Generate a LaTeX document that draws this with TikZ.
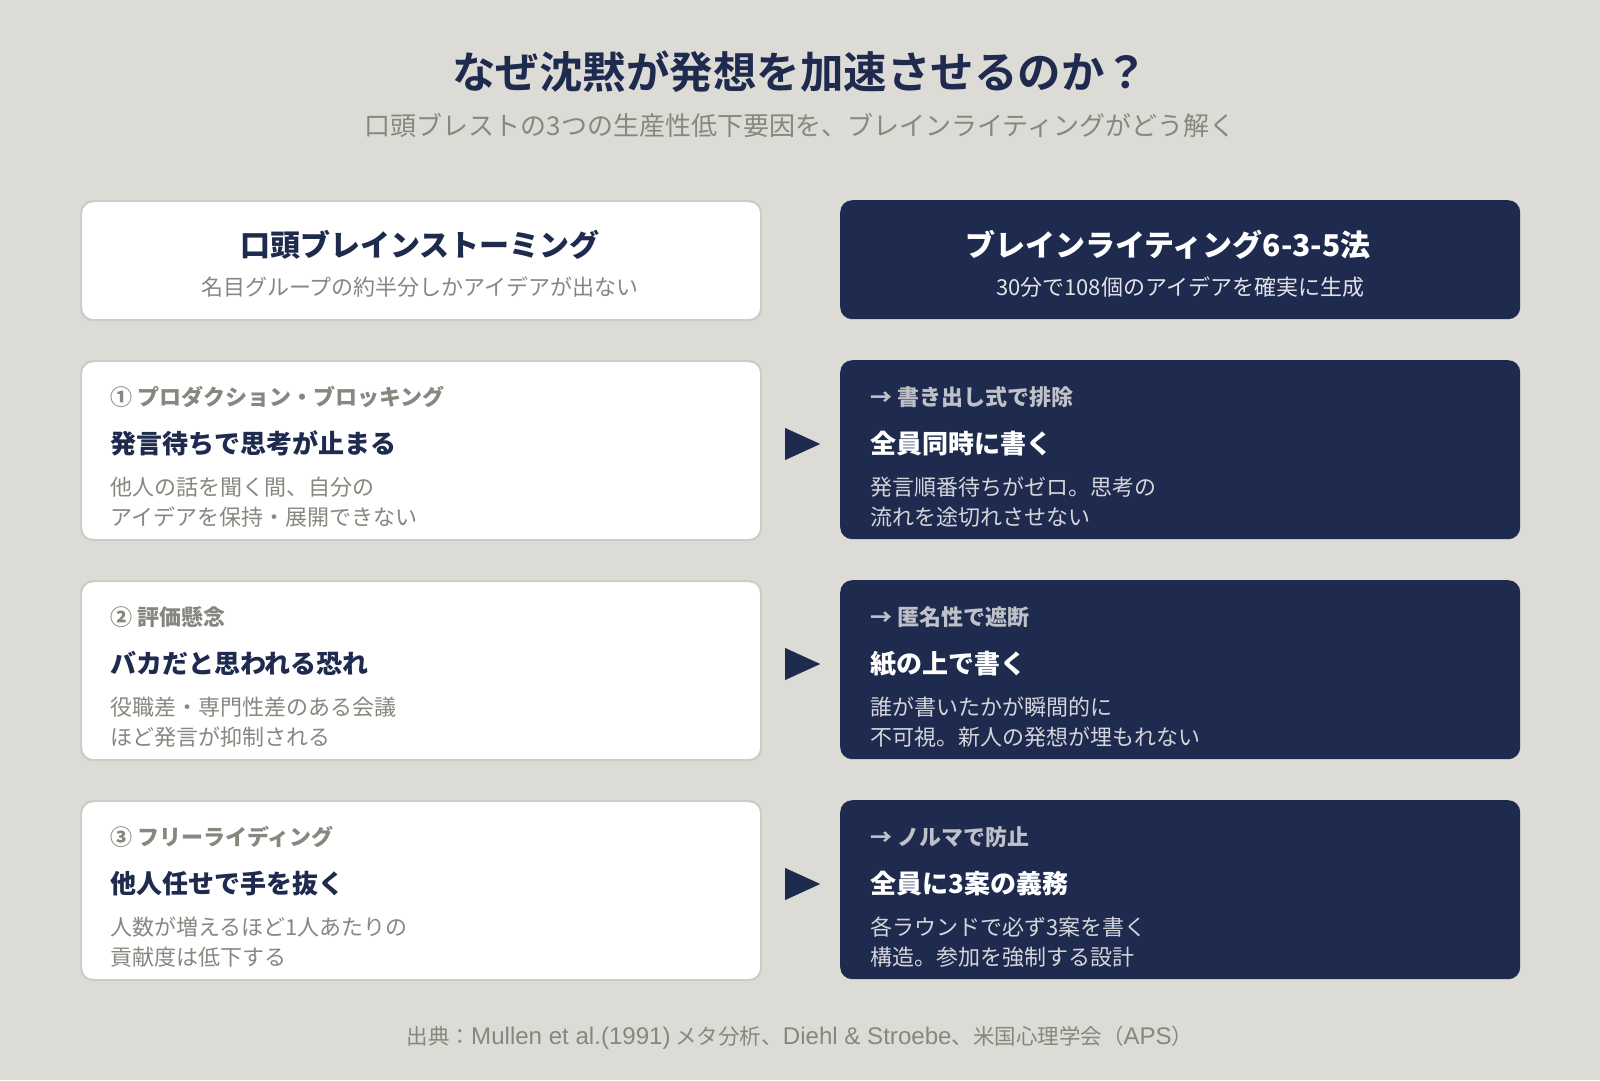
\documentclass[tikz,border=0pt]{standalone}
\usepackage{fontspec}
\setmainfont{Noto Sans CJK JP}
\IfFontExistsTF{Noto Sans CJK JP Black}
  {\newfontfamily\heavy{Noto Sans CJK JP Black}}
  {\newfontfamily\heavy{Noto Sans CJK JP}}
\newfontfamily\latin{Liberation Sans}[Scale=1.12]
\usetikzlibrary{calc}
\definecolor{bgcol}{HTML}{DCDBD6}
\definecolor{navy}{HTML}{1E2A4E}
\definecolor{graytxt}{HTML}{88877F}
\definecolor{bordercol}{HTML}{CDCCC7}
\definecolor{lightlbl}{HTML}{BFC1C8}
\definecolor{lightbody}{HTML}{D4D5DA}
\definecolor{lightsub}{HTML}{E2E3E8}
\begin{document}
\begin{tikzpicture}[x=1pt,y=-1pt,
  lbox/.style={draw=bordercol, line width=2.2pt, fill=white, rounded corners=12pt,
    minimum width=680pt, minimum height=179pt, anchor=north west, inner sep=0pt},
  rbox/.style={fill=navy, rounded corners=12pt,
    minimum width=680pt, minimum height=179pt, anchor=north west, inner sep=0pt},
  hbox/.style={minimum height=119pt},
  txt/.style={inner sep=0pt, anchor=base west},
  ctxt/.style={inner sep=0pt, anchor=base},
  maintitle/.style={ctxt, text=navy, font=\fontsize{43.5}{50}\selectfont\heavy\bfseries},
  subtitle/.style={ctxt, text=graytxt, font=\fontsize{26}{30}\selectfont},
  htitle/.style={ctxt, font=\fontsize{30}{36}\selectfont\bfseries},
  hsub/.style={ctxt, font=\fontsize{22}{26}\selectfont},
  lbl/.style={txt, font=\fontsize{22}{26}\selectfont\bfseries},
  head/.style={txt, font=\fontsize{26}{30}\selectfont\bfseries},
  body/.style={txt, font=\fontsize{22}{26}\selectfont},
  marker/.style={fill=navy},
  foot/.style={ctxt, text=graytxt, font=\fontsize{21.5}{26}\selectfont}
]
\fill[bgcol] (0,0) rectangle (1600,1080);
\useasboundingbox (0,0) rectangle (1600,1080);

% title
\node[maintitle] (title) at (800,88) {なぜ沈黙が発想を加速させるのか？};
\node[subtitle] (subt) at (800,135) {口頭ブレストの3つの生産性低下要因を、ブレインライティングがどう解く};

% header boxes
\node[lbox, hbox] (hl) at (80,200) {};
\node[rbox, hbox] (hr) at (840,200) {};
\node[htitle, text=navy] (hlt) at (420,256) {口頭ブレインストーミング};
\node[hsub, text=graytxt] (hls) at (420,295) {名目グループの約半分しかアイデアが出ない};
\node[htitle, text=white] (hrt) at (1168,256) {ブレインライティング6-3-5法};
\node[hsub, text=lightsub] (hrs) at (1180,295) {30分で108個のアイデアを確実に生成};

% row 1
\node[lbox] (l1) at (80,360) {};
\node[rbox] (r1) at (840,360) {};
\node[lbl, text=graytxt] (l1a) at (110,405) {① プロダクション・ブロッキング};
\node[head, text=navy] (l1b) at (110,453) {発言待ちで思考が止まる};
\node[body, text=graytxt] (l1c) at (110,495) {他人の話を聞く間、自分の};
\node[body, text=graytxt] (l1d) at (110,525) {アイデアを保持・展開できない};
\node[lbl, text=lightlbl] (r1a) at (870,405) {→ 書き出し式で排除};
\node[head, text=white] (r1b) at (870,453) {全員同時に書く};
\node[body, text=lightbody] (r1c) at (870,495) {発言順番待ちがゼロ。思考の};
\node[body, text=lightbody] (r1d) at (870,525) {流れを途切れさせない};
\fill[marker] ($(l1.north east)+(23,68)$) -- ($(l1.north east)+(58,84)$) -- ($(l1.north east)+(23,100)$) -- cycle;

% row 2
\node[lbox] (l2) at (80,580) {};
\node[rbox] (r2) at (840,580) {};
\node[lbl, text=graytxt] (l2a) at (110,625) {② 評価懸念};
\node[head, text=navy] (l2b) at (110,673) {バカだと思われる恐れ};
\node[body, text=graytxt] (l2c) at (110,715) {役職差・専門性差のある会議};
\node[body, text=graytxt] (l2d) at (110,745) {ほど発言が抑制される};
\node[lbl, text=lightlbl] (r2a) at (870,625) {→ 匿名性で遮断};
\node[head, text=white] (r2b) at (870,673) {紙の上で書く};
\node[body, text=lightbody] (r2c) at (870,715) {誰が書いたかが瞬間的に};
\node[body, text=lightbody] (r2d) at (870,745) {不可視。新人の発想が埋もれない};
\fill[marker] ($(l2.north east)+(23,68)$) -- ($(l2.north east)+(58,84)$) -- ($(l2.north east)+(23,100)$) -- cycle;

% row 3
\node[lbox] (l3) at (80,800) {};
\node[rbox] (r3) at (840,800) {};
\node[lbl, text=graytxt] (l3a) at (110,845) {③ フリーライディング};
\node[head, text=navy] (l3b) at (110,893) {他人任せで手を抜く};
\node[body, text=graytxt] (l3c) at (110,935) {人数が増えるほど1人あたりの};
\node[body, text=graytxt] (l3d) at (110,965) {貢献度は低下する};
\node[lbl, text=lightlbl] (r3a) at (870,845) {→ ノルマで防止};
\node[head, text=white] (r3b) at (870,893) {全員に3案の義務};
\node[body, text=lightbody] (r3c) at (870,935) {各ラウンドで必ず3案を書く};
\node[body, text=lightbody] (r3d) at (870,965) {構造。参加を強制する設計};
\fill[marker] ($(l3.north east)+(23,68)$) -- ($(l3.north east)+(58,84)$) -- ($(l3.north east)+(23,100)$) -- cycle;

% footer
\node[foot] (src) at (800,1044) {出典：{\latin Mullen et al.(1991)} メタ分析、{\latin Diehl \& Stroebe}、米国心理学会（{\latin APS}）};
\end{tikzpicture}
\end{document}
